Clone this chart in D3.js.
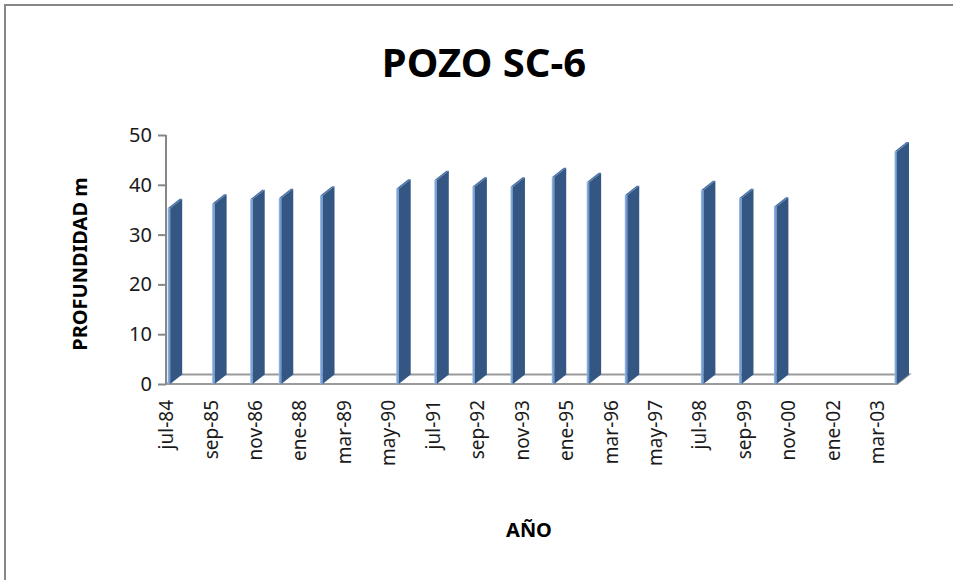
<!DOCTYPE html>
<html><head><meta charset="utf-8">
<script src="https://cdn.jsdelivr.net/npm/d3@7"></script>
<style>
body{margin:0;background:#fff;}
svg{display:block;font-family:"Noto Sans",sans-serif;}
</style></head>
<body>
<svg id="chart" width="953" height="580"></svg>
<script>
// ---- data ----
const dates = ["1984-07","1985-09","1986-09","1987-06","1988-07","1990-07","1991-07","1992-07","1993-07","1994-08","1995-07","1996-07","1998-07","1999-07","2000-06","2003-08"];
const values = [35.3,36.2,37.1,37.3,37.8,39.2,40.9,39.6,39.6,41.5,40.5,37.9,38.9,37.3,35.6,46.7];
const tickLabels = ["jul-84","sep-85","nov-86","ene-88","mar-89","may-90","jul-91","sep-92","nov-93","ene-95","mar-96","may-97","jul-98","sep-99","nov-00","ene-02","mar-03"];
const yTicks = [0,10,20,30,40,50];
const monthNames = ["ene","feb","mar","abr","may","jun","jul","ago","sep","oct","nov","dic"];

const svg = d3.select("#chart");
const parse = d3.timeParse("%Y-%m");
const fmt = d3.timeFormat("%Y-%m");
const labelToKey = l => { const [m,y] = l.split("-"); const yy = +y < 50 ? 2000 + +y : 1900 + +y; return yy + "-" + String(monthNames.indexOf(m)+1).padStart(2,"0"); };

const start = parse(dates[0]);
const end = d3.timeMonth.offset(parse(dates[dates.length-1]),1);
const months = d3.timeMonth.range(start,end).map(fmt);

const x = d3.scaleBand().domain(months).range([167,897]).padding(0);
const y = d3.scaleLinear().domain([0,50]).range([384,135]);
const dx = 12, dy = -9.5;
const y0 = y(0);

// chart border
svg.append("rect").attr("x",5).attr("y",5).attr("width",960).attr("height",600)
  .attr("fill","none").attr("stroke","#878787").attr("stroke-width",2);

// gradient for front faces
const defs = svg.append("defs");
const g1 = defs.append("linearGradient").attr("id","front").attr("x1","0").attr("x2","1").attr("y1","0").attr("y2","0");
g1.append("stop").attr("offset","0%").attr("stop-color","#9dbde6");
g1.append("stop").attr("offset","100%").attr("stop-color","#5b8bc8");

// floor
const floor = svg.append("g").attr("stroke","#9a9a9a").attr("stroke-width",2).attr("fill","none");
floor.append("path").attr("d",`M${x.range()[0]},${y0}L${x.range()[1]},${y0}L${x.range()[1]+dx},${y0+dy}L${x.range()[0]+dx},${y0+dy}Z`).attr("fill","#fff");

// bars
const bw = x.bandwidth()*0.78;
const bars = svg.append("g");
dates.forEach((d,i)=>{
  const bx = x(d)+0.7, top = y(values[i]);
  // side face
  bars.append("path").attr("d",`M${bx+bw},${top}L${bx+bw+dx},${top+dy}L${bx+bw+dx},${y0+dy}L${bx+bw},${y0}Z`)
    .attr("fill","#335683");
  // top face
  bars.append("path").attr("d",`M${bx},${top}L${bx+dx},${top+dy}L${bx+bw+dx},${top+dy}L${bx+bw},${top}Z`)
    .attr("fill","#4a72a8");
  // front face
  bars.append("rect").attr("x",bx).attr("y",top).attr("width",bw).attr("height",y0-top).attr("fill","url(#front)");
});

// y axis
const yAxis = svg.append("g").attr("transform","translate(166,0)")
  .call(d3.axisLeft(y).tickValues(yTicks).tickSize(8).tickPadding(6));
yAxis.select(".domain").attr("stroke","#878787").attr("stroke-width",2).attr("d",`M0,${y(50)}V${y0}`);
yAxis.selectAll(".tick line").attr("stroke","#878787").attr("stroke-width",2);
yAxis.selectAll("text").attr("font-size",20).attr("fill","#1a1a1a").attr("font-family","Noto Sans");

// x axis
const tickKeys = tickLabels.map(labelToKey);
const xAxis = svg.append("g").attr("transform",`translate(0,${y0})`)
  .call(d3.axisBottom(x).tickValues(tickKeys).tickSize(0).tickFormat((k,i)=>tickLabels[i]));
xAxis.select(".domain").remove();
xAxis.selectAll(".tick").attr("transform",d=>`translate(${x(d)-0.5},0)`);
xAxis.selectAll("text").attr("transform","rotate(-90)").attr("x",-16).attr("y",0).attr("dy","0.35em")
  .attr("text-anchor","end").attr("font-size",19).attr("fill","#1a1a1a").attr("font-family","Noto Sans");

// titles
svg.append("text").attr("x",484).attr("y",77).attr("text-anchor","middle")
  .attr("font-size",40).attr("font-weight","bold").attr("fill","#000").text("POZO SC-6");
svg.append("text").attr("transform","translate(87,264) rotate(-90)").attr("text-anchor","middle")
  .attr("font-size",20).attr("font-weight","bold").attr("fill","#000").text("PROFUNDIDAD m");
svg.append("text").attr("x",529).attr("y",537).attr("text-anchor","middle")
  .attr("font-size",20).attr("font-weight","bold").attr("fill","#000").text("AÑO");
</script>
</body></html>
